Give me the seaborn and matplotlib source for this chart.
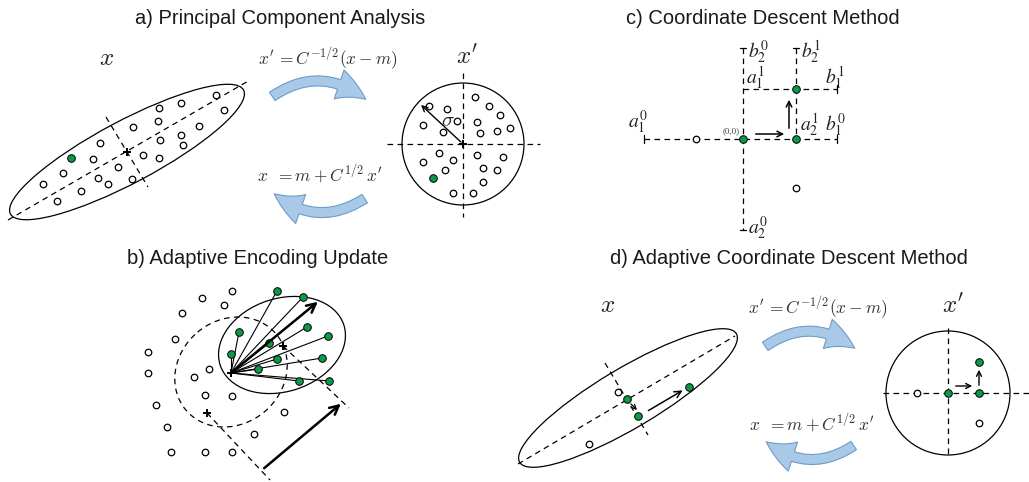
import matplotlib
matplotlib.use("Agg")
import matplotlib.pyplot as plt
from matplotlib.patches import Ellipse, Circle, FancyArrowPatch
import seaborn as sns

sns.set_style("white")
plt.rcParams['font.family'] = ['Liberation Sans', 'DejaVu Sans']
plt.rcParams['mathtext.fontset'] = 'cm'

GREEN = '#0b9a48'
BLUE_FILL = '#a9c9e8'
BLUE_EDGE = '#6e9cc8'
DASH = (0, (4.5, 3.5))

# ---- a) PCA : samples in original space (pixel coords, y down)
pca_x = [216, 224, 181, 159, 158, 133, 199, 160, 181, 183, 100, 93, 143, 159, 118, 63, 98, 108, 132, 43, 81, 57]
pca_y = [95, 110, 103, 108, 121, 127, 126, 140, 135, 145, 143, 159, 155, 158, 167, 173, 178, 184, 179, 184, 191, 201]
pca_green_x = [71]
pca_green_y = [158]
pca_mean = (127, 152)

# ---- a) PCA : whitened samples
wh_x = [429, 447, 475, 489, 500, 423, 443, 457, 477, 480, 497, 510, 439, 423, 453, 477, 503, 445, 483, 497, 483, 453, 473]
wh_y = [106, 109, 97, 106, 115, 125, 132, 121, 122, 133, 131, 128, 153, 162, 160, 155, 157, 170, 168, 170, 182, 193, 193]
wh_green_x = [433]
wh_green_y = [178]
wh_center = (463, 144)

# ---- b) adaptive encoding
ae_x = [232, 202, 224, 182, 175, 148, 148, 209, 194, 205, 232, 156, 284, 167, 254, 171, 205, 232]
ae_y = [291, 298, 305, 313, 339, 352, 373, 369, 377, 395, 396, 405, 412, 427, 434, 452, 452, 452]
ae_green_x = [277, 303, 307, 328, 239, 269, 231, 277, 322, 258, 299, 329]
ae_green_y = [291, 297, 327, 336, 332, 343, 354, 359, 358, 369, 381, 381]
ae_hub = (231, 373)
ae_old_mean = (207, 413)
ae_new_mean = (283, 346)

# ---- c) coordinate descent
cd_open_x = [696, 796]
cd_open_y = [139, 188]
cd_green_x = [743, 796, 796]
cd_green_y = [139, 139, 89]

# ---- d) adaptive coordinate descent
acd_open_x = [618, 589]
acd_open_y = [392, 444]
acd_green_x = [627, 638, 689]
acd_green_y = [399, 416, 387]
acdw_open_x = [917, 979]
acdw_open_y = [393, 423]
acdw_green_x = [948, 979, 979]
acdw_green_y = [393, 393, 362]
acdw_center = (948, 393)

fig = plt.figure(figsize=(10.29, 4.82), dpi=100)
ax = fig.add_axes([0, 0, 1, 1])
ax.set_xlim(0, 1029)
ax.set_ylim(482, 0)
ax.axis('off')


def open_pts(xs, ys):
    sns.scatterplot(x=xs, y=ys, ax=ax, s=22, color='white', edgecolor='black', linewidth=0.9, zorder=5)


def green_pts(xs, ys):
    sns.scatterplot(x=xs, y=ys, ax=ax, s=30, color=GREEN, edgecolor='black', linewidth=0.7, zorder=6)


def dashed(x, y, lw=0.9):
    ax.plot(x, y, color='black', lw=lw, linestyle=DASH, zorder=2)


def arrow(p0, p1, lw=1.0, ms=12):
    ax.add_patch(FancyArrowPatch(p0, p1, arrowstyle='->', mutation_scale=ms, lw=lw, color='black', zorder=7))


def blue_arrow(p0, p1, rad):
    ax.add_patch(FancyArrowPatch(p0, p1, connectionstyle=f'arc3,rad={rad}',
                                 arrowstyle='simple,head_width=1.1,head_length=1.1,tail_width=0.36',
                                 mutation_scale=20, fc=BLUE_FILL, ec=BLUE_EDGE, lw=0.8, zorder=3))


def star(p):
    ax.plot(p[0], p[1], marker='P', ms=6, color='black', mew=0, zorder=7)


# titles
tfs = 14.5
ax.text(280, 18, 'a) Principal Component Analysis', ha='center', va='center', fontsize=tfs, color='#1a1a1a')
ax.text(763, 18, 'c) Coordinate Descent Method', ha='center', va='center', fontsize=tfs, color='#1a1a1a')
ax.text(258, 258, 'b) Adaptive Encoding Update', ha='center', va='center', fontsize=tfs, color='#1a1a1a')
ax.text(789, 258, 'd) Adaptive Coordinate Descent Method', ha='center', va='center', fontsize=tfs, color='#1a1a1a')

ffs = 12.5
# ================= a)
ax.text(107, 58, '$x$', ha='center', va='center', fontsize=18)
ax.text(467, 57, "$x'$", ha='center', va='center', fontsize=18)
ax.text(328, 59, "$x'\\,=C^{-1/2}(x-m)$", ha='center', va='center', fontsize=ffs, color='#333333')
ax.text(320, 174, "$x\\;\\;=m+C^{1/2}\\,x'$", ha='center', va='center', fontsize=ffs, color='#333333')
ax.add_patch(Ellipse(pca_mean, 264, 62, angle=-28, fill=False, lw=0.9, ec='black'))
dashed([8, 250], [220, 80])
dashed([106, 148], [117, 187])
open_pts(pca_x, pca_y)
green_pts(pca_green_x, pca_green_y)
star(pca_mean)

ax.add_patch(Circle(wh_center, 61, fill=False, lw=0.9, ec='black'))
dashed([387, 540], [144, 144])
dashed([463, 463], [73, 217])
open_pts(wh_x, wh_y)
green_pts(wh_green_x, wh_green_y)
star(wh_center)
arrow(wh_center, (419, 103), lw=1.0, ms=10)
ax.text(448, 121, '$\\sigma$', ha='center', va='center', fontsize=15)

blue_arrow((270, 98), (368, 101), -0.38)
blue_arrow((367, 197), (272, 192), -0.38)

# ================= c)
dashed([644, 837], [139, 139])
dashed([743, 743], [48, 230])
dashed([796, 796], [48, 139])
dashed([743, 837], [89, 89])
for x in (644, 837):
    ax.plot([x, x], [135, 143], color='black', lw=0.9)
ax.plot([837, 837], [85, 93], color='black', lw=0.9)
for y in (48, 230):
    ax.plot([740, 746], [y, y], color='black', lw=0.9)
ax.plot([793, 799], [48, 48], color='black', lw=0.9)
open_pts(cd_open_x, cd_open_y)
green_pts(cd_green_x, cd_green_y)
arrow((753, 134), (787, 134), lw=1.1, ms=10)
arrow((789, 131), (789, 97), lw=1.1, ms=10)
lfs = 14
kw = dict(va='center', fontsize=lfs, math_fontfamily='stix', color='#222222')
ax.text(638, 122, '$a_1^0$', ha='center', **kw)
ax.text(748, 52, '$b_2^0$', ha='left', **kw)
ax.text(801, 52, '$b_2^1$', ha='left', **kw)
ax.text(746, 78, '$a_1^1$', ha='left', **kw)
ax.text(835, 78, '$b_1^1$', ha='center', **kw)
ax.text(800, 125, '$a_2^1$', ha='left', **kw)
ax.text(835, 125, '$b_1^0$', ha='center', **kw)
ax.text(748, 228, '$a_2^0$', ha='left', **kw)
ax.text(731, 131, '(0,0)', ha='center', va='center', fontsize=6.5, family='Liberation Serif', color='#444444')

# ================= b)
ax.add_patch(Ellipse((231, 372), 118, 104, angle=-40, fill=False, lw=0.9, ec='black', linestyle=DASH))
ax.add_patch(Ellipse((282, 345), 130, 93, angle=-18, fill=False, lw=0.9, ec='black'))
dashed([ae_old_mean[0], 270], [ae_old_mean[1], 480])
dashed([ae_new_mean[0], 349], [ae_new_mean[1], 408])
for gx, gy in zip(ae_green_x, ae_green_y):
    ax.plot([ae_hub[0], gx], [ae_hub[1], gy], color='black', lw=0.8, zorder=4)
arrow(ae_hub, (320, 300), lw=1.8, ms=16)
arrow((262, 470), (343, 402), lw=1.8, ms=16)
open_pts(ae_x, ae_y)
green_pts(ae_green_x, ae_green_y)
star(ae_hub)
star(ae_old_mean)
star(ae_new_mean)

# ================= d)
ax.text(608, 305, '$x$', ha='center', va='center', fontsize=18)
ax.text(953, 306, "$x'$", ha='center', va='center', fontsize=18)
ax.text(818, 308, "$x'\\,=C^{-1/2}(x-m)$", ha='center', va='center', fontsize=ffs, color='#333333')
ax.text(812, 423, "$x\\;\\;=m+C^{1/2}\\,x'$", ha='center', va='center', fontsize=ffs, color='#333333')
ax.add_patch(Ellipse((628, 398), 252, 60, angle=-30.7, fill=False, lw=0.9, ec='black'))
dashed([518, 735], [464, 336])
dashed([605, 648], [363, 435])
open_pts(acd_open_x, acd_open_y)
green_pts(acd_green_x, acd_green_y)
arrow((629, 402), (639, 412), lw=0.9, ms=8)
arrow((646, 412), (685, 389), lw=1.1, ms=12)

ax.add_patch(Circle(acdw_center, 62, fill=False, lw=0.9, ec='black'))
dashed([883, 1029], [393, 393])
dashed([948, 948], [328, 458])
open_pts(acdw_open_x, acdw_open_y)
green_pts(acdw_green_x, acdw_green_y)
arrow((953, 386), (975, 386), lw=1.0, ms=9)
arrow((979, 388), (979, 367), lw=1.0, ms=9)

blue_arrow((763, 348), (857, 350), -0.38)
blue_arrow((856, 444), (764, 440), -0.38)

fig.savefig('out.png', dpi=100)
